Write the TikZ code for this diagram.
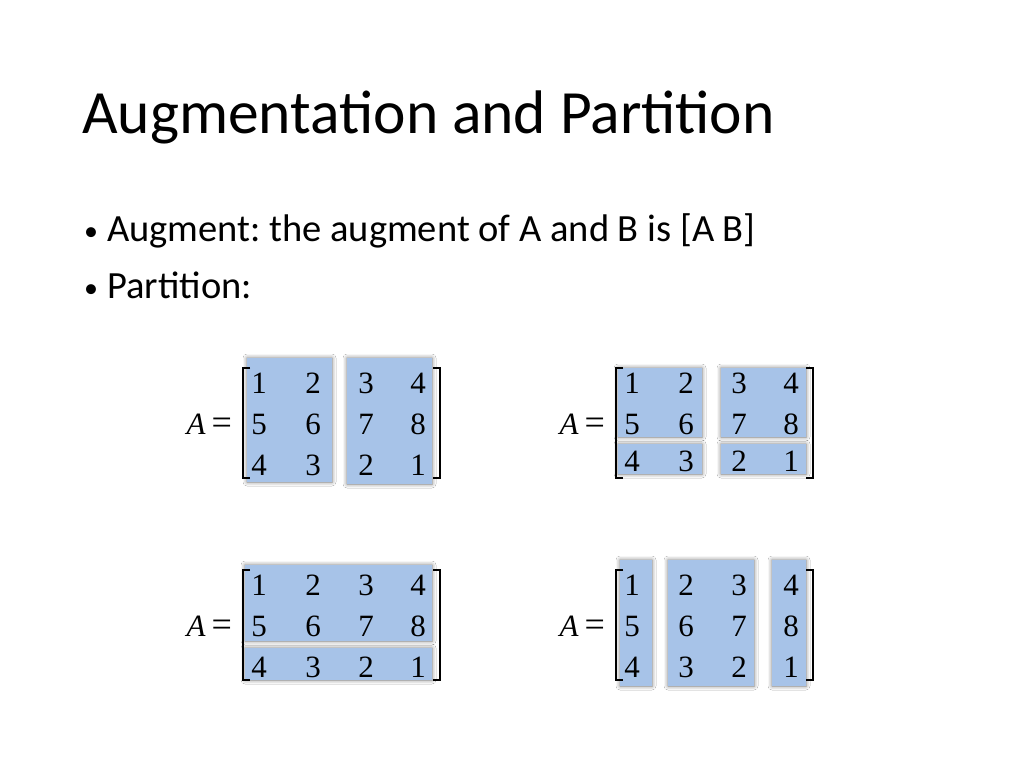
\documentclass[tikz,border=0pt]{standalone}
\usepackage{fontspec}
\setmainfont{Carlito}
\newfontfamily\mfont{Liberation Serif}
\usetikzlibrary{shadows.blur}
\frenchspacing
\begin{document}
\begin{tikzpicture}[x=1pt,y=-1pt,
  blk/.style={fill=boxc, blur shadow={shadow xshift=0pt,shadow yshift=0pt,shadow blur radius=4pt,shadow opacity=55}},
  num/.style={font=\mfont\fontsize{31}{31}\selectfont, inner sep=0pt},
  eqn/.style={font=\mfont\fontsize{31}{31}\selectfont, inner sep=0pt, anchor=east},
  brk/.style={line width=1.3pt}]
\definecolor{boxc}{HTML}{A7C3E8}
\fill[white] (0,0) rectangle (1024,768);
\useasboundingbox (0,0) rectangle (1024,768);
\node[anchor=base west, inner sep=0pt, font=\fontsize{61.5}{61.5}\selectfont] (title) at (82,133) {Augmentation and Partition};
\node[anchor=base west, inner sep=0pt, font=\fontsize{38.5}{38.5}\selectfont] (b1) at (84,241) {{\fontsize{28}{28}\selectfont\raisebox{1pt}{\textbullet}}\hspace{9pt}Augment: the augment of A and B is [A B]};
\node[anchor=base west, inner sep=0pt, font=\fontsize{38.5}{38.5}\selectfont] (b2) at (84,298) {{\fontsize{28}{28}\selectfont\raisebox{1pt}{\textbullet}}\hspace{9pt}Partition:};
% boxes
\path[blk] (247,358) rectangle (332,482);
\path[blk] (347,358) rectangle (432,484);
\path[blk] (618,368) rectangle (702,437);
\path[blk] (721,368) rectangle (806,437);
\path[blk] (618,444) rectangle (702,474);
\path[blk] (721,444) rectangle (806,474);
\path[blk] (245,565) rectangle (432,641);
\path[blk] (245,648) rectangle (432,680);
\path[blk] (620,560) rectangle (652,686);
\path[blk] (668,560) rectangle (754,686);
\path[blk] (772,560) rectangle (806,686);
% matrices
\foreach \n/\ox/\oy/\ry in {m1/0/0/0, m2/373/0/-4, m3/0/202/0, m4/373/202/0}{
  \node[eqn] (eq\n) at (232+\ox,424+\oy) {\itshape A\upshape\hspace{6pt}{\fontsize{36}{36}\selectfont=}};
  \draw[brk] (250+\ox,368+\oy) -- (243+\ox,368+\oy) coordinate (tl\n) -- (243+\ox,478+\oy) -- (250+\ox,478+\oy);
  \draw[brk] (433+\ox,368+\oy) -- (440+\ox,368+\oy) coordinate (tr\n) -- (440+\ox,478+\oy) -- (433+\ox,478+\oy);
  \foreach \r/\a/\b/\c/\d in {1/1/2/3/4, 2/5/6/7/8, 3/4/3/2/1}{
    \pgfmathsetmacro\yy{342+41*\r+\oy+(\r==3 ? \ry : 0)}
    \node[num] (\n r\r c1) at (259+\ox,\yy) {\a};
    \node[num] (\n r\r c2) at (313+\ox,\yy) {\b};
    \node[num] (\n r\r c3) at (366+\ox,\yy) {\c};
    \node[num] (\n r\r c4) at (418+\ox,\yy) {\d};
  }
}
\end{tikzpicture}
\end{document}
